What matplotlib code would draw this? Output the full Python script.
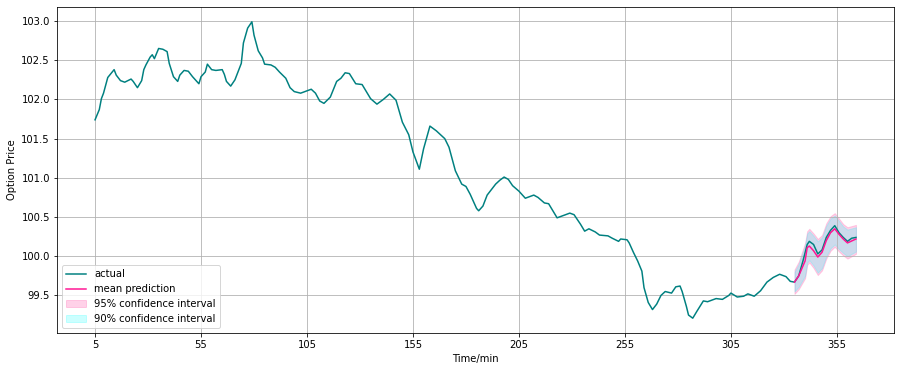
import matplotlib
matplotlib.use("Agg")
import matplotlib.pyplot as plt

# ---- data ----
actual_t = [5, 7, 8, 9, 11, 14, 15, 17, 19, 22, 23, 25, 27, 28, 29, 31, 32, 33, 35, 37,
            39, 40, 42, 44, 45, 47, 49, 51, 54, 55, 57, 58, 60, 62, 65, 66, 67, 69, 71, 74,
            75, 77, 79, 80, 82, 84, 85, 88, 90, 92, 95, 97, 99, 102, 105, 107, 109, 111, 113, 116,
            119, 121, 123, 125, 128, 131, 135, 138, 141, 144, 147, 150, 153, 155, 158, 160, 163, 166, 170, 172,
            175, 178, 180, 182, 185, 186, 188, 190, 194, 196, 198, 200, 202, 205, 208, 212, 214, 217, 219, 221,
            223, 226, 229, 231, 234, 236, 238, 241, 243, 247, 249, 252, 253, 256, 257, 259, 261, 263, 264, 266,
            268, 270, 272, 274, 277, 279, 281, 282, 284, 285, 287, 289, 292, 294, 298, 301, 304, 305, 308, 311,
            313, 316, 319, 322, 325, 328, 331, 333, 335, 337, 339, 341, 342, 344, 346, 348, 350, 352, 354, 356,
            358, 360, 362, 364]
actual_v = [101.74, 101.87, 102.01, 102.08, 102.28, 102.38, 102.31, 102.24, 102.22, 102.26, 102.23, 102.15, 102.24, 102.38, 102.44, 102.54, 102.57, 102.52, 102.65, 102.64,
            102.61, 102.46, 102.29, 102.23, 102.31, 102.37, 102.36, 102.29, 102.20, 102.29, 102.35, 102.45, 102.38, 102.37, 102.38, 102.32, 102.23, 102.17, 102.25, 102.46,
            102.72, 102.91, 102.99, 102.82, 102.62, 102.53, 102.45, 102.44, 102.41, 102.35, 102.27, 102.15, 102.10, 102.08, 102.11, 102.13, 102.08, 101.98, 101.95, 102.03,
            102.23, 102.27, 102.34, 102.33, 102.20, 102.19, 102.01, 101.94, 102.00, 102.07, 101.99, 101.71, 101.55, 101.33, 101.11, 101.37, 101.66, 101.60, 101.50, 101.39,
            101.09, 100.92, 100.89, 100.79, 100.61, 100.58, 100.64, 100.78, 100.92, 100.97, 101.01, 100.98, 100.90, 100.83, 100.74, 100.78, 100.75, 100.68, 100.67, 100.58,
            100.49, 100.52, 100.55, 100.53, 100.41, 100.32, 100.35, 100.31, 100.27, 100.26, 100.23, 100.19, 100.22, 100.21, 100.17, 100.05, 99.94, 99.81, 99.60, 99.41,
            99.32, 99.39, 99.50, 99.55, 99.53, 99.61, 99.62, 99.55, 99.36, 99.25, 99.21, 99.30, 99.43, 99.42, 99.46, 99.45, 99.50, 99.53, 99.48, 99.49,
            99.52, 99.49, 99.56, 99.67, 99.73, 99.77, 99.74, 99.68, 99.67, 99.75, 99.94, 100.15, 100.19, 100.15, 100.03, 100.08, 100.24, 100.33, 100.39, 100.30,
            100.24, 100.19, 100.23, 100.24]

pred_t = [335, 337, 340, 341, 342, 344, 346, 348, 350, 352, 354, 356, 358, 360, 364]
pred_mean = [99.67, 99.75, 99.94, 100.11, 100.13, 100.07, 99.99, 100.05, 100.20, 100.30, 100.35, 100.28, 100.22, 100.17, 100.22]
upper95 = [99.83, 99.93, 100.17, 100.32, 100.35, 100.29, 100.22, 100.27, 100.42, 100.51, 100.55, 100.48, 100.41, 100.37, 100.40]
lower95 = [99.52, 99.58, 99.72, 99.89, 99.92, 99.85, 99.76, 99.82, 99.97, 100.07, 100.12, 100.06, 100.01, 99.97, 100.03]
upper90 = [99.80, 99.90, 100.14, 100.29, 100.32, 100.26, 100.19, 100.24, 100.39, 100.48, 100.52, 100.45, 100.38, 100.34, 100.37]
lower90 = [99.55, 99.61, 99.75, 99.92, 99.95, 99.88, 99.79, 99.85, 100.00, 100.10, 100.15, 100.09, 100.04, 100.00, 100.06]

xticks = [5, 55, 105, 155, 205, 255, 305, 355]

plt.rcParams['font.size'] = 10
fig = plt.figure(figsize=(901 / 72, 371 / 72), dpi=72)
ax = fig.add_axes([57 / 901, 1 - 333 / 371, (894 - 57) / 901, (333 - 7) / 371])

f95 = ax.fill_between(pred_t, lower95, upper95, color='hotpink', alpha=0.3,
                      label='95% confidence interval')
f90 = ax.fill_between(pred_t, lower90, upper90, color='cyan', alpha=0.2,
                      label='90% confidence interval')
l1, = ax.plot(actual_t, actual_v, color='teal', lw=1.5, label='actual')
l2, = ax.plot(pred_t, pred_mean, color='deeppink', lw=1.5, label='mean prediction')

ax.set_xticks(xticks)
ax.grid(True)
ax.set_xlabel('Time/min')
ax.set_ylabel('Option Price')
ax.legend(handles=[l1, l2, f95, f90], loc='lower left')

fig.savefig('out.png', dpi=72)
